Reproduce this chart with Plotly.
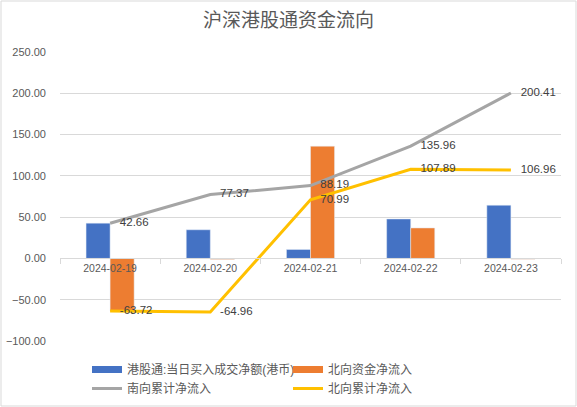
import plotly.graph_objects as go

# data
dates = ["2024-02-19", "2024-02-20", "2024-02-21", "2024-02-22", "2024-02-23"]
south_daily = [42.66, 34.71, 10.82, 47.77, 64.45]
north_daily = [-63.72, -1.24, 135.95, 36.90, -0.93]
south_cum = [42.66, 77.37, 88.19, 135.96, 200.41]
north_cum = [-63.72, -64.96, 70.99, 107.89, 106.96]

names = ["港股通:当日买入成交净额(港币)", "北向资金净流入", "南向累计净流入", "北向累计净流入"]
colors = ["#4472C4", "#ED7D31", "#A5A5A5", "#FFC000"]

W, H = 577, 407
ml, mr, mt, mb = 60, 16, 52, 66
ymin, ymax = -100, 250

font = "Liberation Sans, Noto Sans CJK SC, sans-serif"

fig = go.Figure()

# bars (legend drawn with dummy line entries below, like Excel's wide swatches)
fig.add_trace(go.Bar(x=dates, y=south_daily, marker_color=colors[0], name=names[0], showlegend=False))
fig.add_trace(go.Bar(x=dates, y=north_daily, marker_color=colors[1], name=names[1], showlegend=False))

# cumulative lines with labels on the right (invisible markers push the labels off the points)
for vals, c, n in [(south_cum, colors[2], names[2]), (north_cum, colors[3], names[3])]:
  fig.add_trace(go.Scatter(
    x=dates, y=vals, mode='lines+markers+text', name=n,
    line=dict(color=c, width=3),
    marker=dict(size=14, color='rgba(0,0,0,0)'),
    text=["%.2f" % v for v in vals],
    textposition='middle right',
    textfont=dict(size=11.5, color="#404040"),
    showlegend=False, cliponaxis=False))

# legend entries
for i, n in enumerate(names):
  fig.add_trace(go.Scatter(
    x=[None], y=[None], mode='lines', name=n,
    line=dict(color=colors[i], width=7 if i < 2 else 3)))

zero_pos = (0 - ymin) / (ymax - ymin)

fig.update_layout(
  width=W, height=H,
  margin=dict(l=ml, r=mr, t=mt, b=mb, autoexpand=False),
  paper_bgcolor="white", plot_bgcolor="white",
  font=dict(family=font, size=11, color="#595959"),
  title=dict(text="沪深港股通资金流向", x=0.5, xanchor='center', y=1 - 20 / H, yanchor='middle',
             yref='container', font=dict(size=19, color="#595959", family=font)),
  barmode='group', bargap=0.52, bargroupgap=0,
  legend=dict(orientation='h', xref='container', yref='container',
              x=87 / W, xanchor='left', y=1 - 355 / H, yanchor='top',
              entrywidth=156, entrywidthmode='pixels', traceorder='normal',
              font=dict(size=12, color="#595959"), itemwidth=30),
  xaxis=dict(type='category', anchor='free', position=zero_pos, automargin=False,
             showgrid=False, showline=True, linecolor="#D9D9D9", linewidth=1,
             ticks='outside', tickson='boundaries', ticklen=5, tickcolor="#D9D9D9",
             tickfont=dict(size=10.5, color="#595959")),
  yaxis=dict(range=[ymin, ymax], dtick=50, tickformat=".2f", automargin=False,
             showgrid=True, gridcolor="#D9D9D9", gridwidth=1, zeroline=False,
             showline=False, ticklabelstandoff=13,
             tickfont=dict(size=11, color="#595959")),
)

# outer chart border
fig.add_shape(type='rect', xref='paper', yref='paper',
              x0=-(ml - 1) / (W - ml - mr), x1=1 + (mr - 1) / (W - ml - mr),
              y0=-(mb - 1) / (H - mt - mb), y1=1 + (mt - 1) / (H - mt - mb),
              line=dict(color="#D9D9D9", width=1), layer='below')

# the page body has a default 8px margin; drop it so the figure fills the window
fig.write_html("out.html", config={'displayModeBar': False},
               post_script="document.body.style.margin = '0';")
